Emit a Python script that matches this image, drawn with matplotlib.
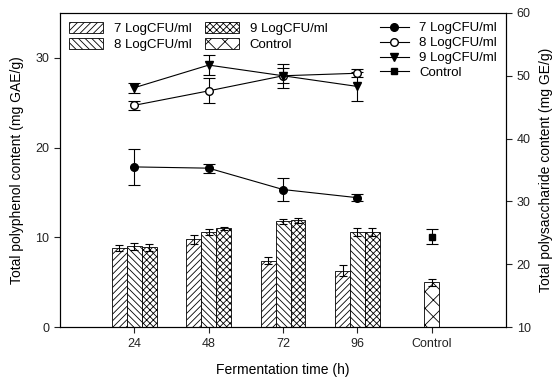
import numpy as np
import matplotlib.pyplot as plt
from matplotlib.lines import Line2D

plt.rcParams['font.family'] = ['Liberation Sans', 'DejaVu Sans']

# data
times = ['24', '48', '72', '96']
xlabels = ['24', '48', '72', '96', 'Control']
groups = ['7 LogCFU/ml', '8 LogCFU/ml', '9 LogCFU/ml']

# polyphenol (bars, left axis)
poly = [[8.8, 9.8, 7.4, 6.3],
        [9.0, 10.6, 11.8, 10.6],
        [8.9, 11.0, 11.9, 10.6]]
poly_err = [[0.3, 0.5, 0.4, 0.6],
            [0.4, 0.3, 0.3, 0.5],
            [0.4, 0.2, 0.3, 0.5]]
poly_ctrl = 5.0
poly_ctrl_err = 0.4

# polysaccharide (lines, right axis)
sacc = [[35.5, 35.3, 31.9, 30.6],
        [45.3, 47.6, 50.0, 50.4],
        [48.1, 51.7, 50.0, 48.3]]
sacc_err = [[2.8, 0.7, 1.8, 0.6],
            [0.7, 2.0, 1.9, 0.6],
            [0.8, 1.6, 1.2, 2.3]]
sacc_ctrl = 24.4
sacc_ctrl_err = 1.2

hatches = ['/////', '\\\\\\\\\\', 'xxxxx']
markers = ['o', 'o', 'v']
mfaces = ['black', 'white', 'black']

fig = plt.figure(figsize=(5.6, 3.8), dpi=100)
ax = fig.add_axes([0.107, 0.139, 0.797, 0.827])
ax2 = ax.twinx()

plt.rcParams['hatch.linewidth'] = 0.6
x = np.arange(len(times))
w = 0.2
for i in range(3):
    ax.bar(x + (i - 1) * w, poly[i], w, yerr=poly_err[i], color='white',
           edgecolor='black', linewidth=0.6, hatch=hatches[i], label=groups[i],
           error_kw=dict(elinewidth=0.8, capsize=3, capthick=0.8))
ax.bar([4], [poly_ctrl], w, yerr=[poly_ctrl_err], color='white', edgecolor='black',
       linewidth=0.6, hatch='xx', label='Control',
       error_kw=dict(elinewidth=0.8, capsize=3, capthick=0.8))

handles = []
for i in range(3):
    ax2.errorbar(x, sacc[i], yerr=sacc_err[i], color='black', marker=markers[i],
                 mfc=mfaces[i], mec='black', ms=5.5, lw=0.8, capsize=4,
                 elinewidth=0.8, capthick=0.8)
    handles.append(Line2D([], [], color='black', marker=markers[i], mfc=mfaces[i],
                          mec='black', ms=5.5, lw=0.8, label=groups[i]))
ax2.errorbar([4], [sacc_ctrl], yerr=[sacc_ctrl_err], color='black', marker='s',
             ms=5, lw=0.8, capsize=4, elinewidth=0.8, capthick=0.8)
handles.append(Line2D([], [], color='black', marker='s', ms=5, lw=0.8, label='Control'))

ax.set_xlim(-1, 5)
ax.set_ylim(0, 35)
ax2.set_ylim(10, 60)
ax.set_xticks(range(5))
ax.set_xticklabels(xlabels)
ax.set_yticks([0, 10, 20, 30])
ax2.set_yticks([10, 20, 30, 40, 50, 60])
for a in (ax, ax2):
    a.tick_params(direction='out', length=4, width=0.8, labelsize=9, colors='#222222')
    for s in a.spines.values():
        s.set_linewidth(0.8)
ax.set_xlabel('Fermentation time (h)', fontsize=10, labelpad=10)
ax.set_ylabel('Total polyphenol content (mg GAE/g)', fontsize=10, labelpad=8)
ax2.set_ylabel('Total polysaccharide content (mg GE/g)', fontsize=10, labelpad=6)

h, l = ax.get_legend_handles_labels()
ax.legend(h, l, loc='upper left', ncol=2, frameon=False, fontsize=9.5,
          handlelength=2.6, handleheight=0.9, columnspacing=1.0,
          labelspacing=0.2, borderaxespad=0.3)
ax2.legend(handles=handles, loc='upper right', frameon=False, fontsize=9.5,
           handlelength=2.2, labelspacing=0.2, borderaxespad=0.3)

fig.savefig('out.png', dpi=100)
